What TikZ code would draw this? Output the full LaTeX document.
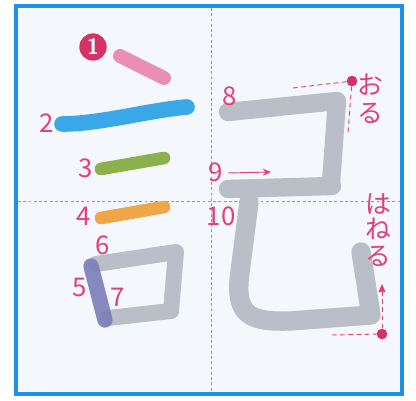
\documentclass[tikz,border=0pt]{standalone}
\usepackage{fontspec}
\newfontfamily\jpfont{Noto Sans CJK JP}
\usetikzlibrary{arrows.meta, positioning}
\definecolor{frameblue}{RGB}{30,146,226}
\definecolor{paper}{RGB}{244,248,252}
\definecolor{guideblue}{RGB}{70,176,228}
\definecolor{labelpink}{RGB}{226,64,122}
\definecolor{dotred}{RGB}{214,50,104}
\definecolor{strokeA}{RGB}{234,142,180}
\definecolor{strokeB}{RGB}{58,168,232}
\definecolor{strokeC}{RGB}{140,176,76}
\definecolor{strokeD}{RGB}{238,166,70}
\definecolor{strokeE}{RGB}{124,126,184}
\definecolor{strokeG}{RGB}{186,190,198}
\tikzset{
  brush/.style = {line cap=round, line join=round, line width=0.42cm},
  num/.style   = {font=\jpfont\fontsize{22}{22}\selectfont, text=labelpink, inner sep=0pt},
  kana/.style  = {font=\jpfont\fontsize{22}{22}\selectfont, text=labelpink, inner sep=0pt},
  guide/.style = {draw=guideblue, line width=0.8pt, dash pattern=on 2.5pt off 2pt},
  hint/.style  = {draw=labelpink, line width=0.8pt, dash pattern=on 4pt off 3pt},
  dot/.style   = {circle, fill=dotred, inner sep=0pt, minimum size=0.32cm},
  arr/.style   = {-{Stealth[length=7pt, width=6pt]}, labelpink, line width=0.8pt}
}
\begin{document}
\begin{tikzpicture}[x=0.03cm, y=-0.03cm]
\useasboundingbox (0,0) rectangle (416,401);

% sheet and guides
\fill[paper] (16,6) rectangle (402,394);
\draw[guide] (211,8) -- (211,392);
\draw[guide] (18,201) -- (400,201);
\draw[frameblue, line width=0.12cm] (16,6) rectangle (402,394);

% left part (gonben)
\draw[brush, strokeA] (120,56) -- (164,78);
\draw[brush, strokeB, line width=0.47cm] (62,124) .. controls (100,124) and (150,110) .. (187,107);
\draw[brush, strokeC, line width=0.38cm] (101,169) -- (164,158);
\draw[brush, strokeD, line width=0.38cm] (101,218) -- (164,207);
\draw[brush, strokeG, line width=0.48cm] (96,264) -- (176,252) -- (171,311);
\draw[brush, strokeG, line width=0.48cm] (108,318) -- (171,311);
\draw[brush, strokeE, line width=0.46cm, opacity=0.9] (91,266) -- (105,320);

% right part
\draw[brush, strokeG, line width=0.55cm] (228,112) -- (337,101) -- (331,183);
\draw[brush, strokeG, line width=0.55cm] (228,189) -- (332,186);
\draw[brush, strokeG, line width=0.58cm] (249,202) -- (240,272)
  .. controls (234,316) and (250,322) .. (290,321) -- (371,315) -- (361,252);

% stroke numbers
\node[circle, fill=dotred, text=white, inner sep=0pt, minimum size=0.82cm,
      font=\sffamily\bfseries\fontsize{19}{19}\selectfont] (n1) at (93,47) {1};
\node[num] (n2) at (47,123) {2};
\node[num] (n3) at (86,168) {3};
\node[num] (n4) at (84,216) {4};
\node[num] (n5) at (80,287) {5};
\node[num] (n6) at (103,245) {6};
\node[num] (n7) at (118,297) {7};
\node[num] (n8) at (230,96) {8};
\node[num] (n9) at (216,172) {9};
\node[num] (n10) at (221,216) {10};

% direction of stroke 9
\coordinate (a9) at (228,173);
\coordinate (b9) at (271,172);
\draw[arr] (a9) -- (b9);

% oru
\node[dot] (oru) at (352,81) {};
\coordinate (oruL) at (293,88);
\coordinate (oruD) at (348,133);
\draw[hint] (oruL) -- (oru);
\draw[hint] (oru) -- (oruD);
\node[kana] (o1) at (370,85) {お};
\node[kana] (o2) at (370,113) {る};

% haneru
\node[dot] (hane) at (382,334) {};
\coordinate (haneL) at (332,335);
\coordinate (haneU) at (382,284);
\draw[hint] (haneL) -- (hane);
\draw[hint, -{Triangle[length=7pt, width=6pt]}] (hane) -- (haneU);
\node[kana] (h1) at (378,204) {は};
\node[kana] (h2) at (378,229) {ね};
\node[kana] (h3) at (378,256) {る};
\end{tikzpicture}
\end{document}
